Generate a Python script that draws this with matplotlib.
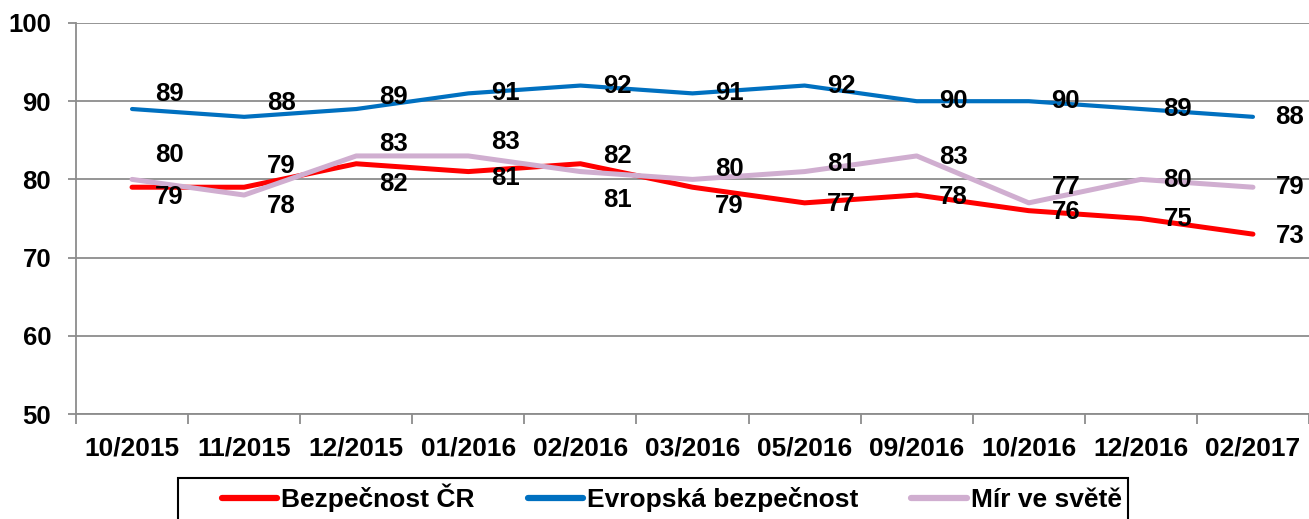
import matplotlib
matplotlib.use("Agg")
import matplotlib.pyplot as plt
from matplotlib.patches import Rectangle

# ---------------------------------------------------------------------------
# Data
# ---------------------------------------------------------------------------
periods = ["10/2015", "11/2015", "12/2015", "01/2016", "02/2016", "03/2016",
           "05/2016", "09/2016", "10/2016", "12/2016", "02/2017"]

bezpecnost_cr = [79, 79, 82, 81, 82, 79, 77, 78, 76, 75, 73]
evropska = [89, 88, 89, 91, 92, 91, 92, 90, 90, 89, 88]
mir = [80, 78, 83, 83, 81, 80, 81, 83, 77, 80, 79]

# label offsets (pixels, +down) relative to each point
cr_dy = [10, -21, 20, 6, -8, 19, 1, 2, 1, 0, 2]
ev_dy = [-15, -14, -12, 0, 0, 0, 0, 0, 0, 0, 0]
mir_dy = [-24, 11, -12, -14, 28, -10, -8, 1, -16, 1, 0]
LABEL_DX = 37

W, H = 1309, 519
plt.rcParams.update({
    "font.family": ["Liberation Sans", "DejaVu Sans"],
    "font.weight": "bold",
})

fig = plt.figure(figsize=(W / 100, H / 100), dpi=100)
ax = fig.add_axes([76 / W, 1 - 414 / H, (1309 - 76) / W, (414 - 23) / H])

x = list(range(len(periods)))
series = [
    (bezpecnost_cr, "Bezpečnost ČR", "#FF0000", 3.6, cr_dy),
    (evropska, "Evropská bezpečnost", "#0070C0", 3.0, ev_dy),
    (mir, "Mír ve světě", "#D0AED0", 3.6, mir_dy),
]

for vals, name, color, lw, dys in series:
    ax.plot(x, vals, color=color, lw=lw, label=name, solid_capstyle="round",
            solid_joinstyle="round", zorder=3)
    for xi, v, dy in zip(x, vals, dys):
        ax.annotate(str(v), (xi, v), xytext=(LABEL_DX, -dy),
                    textcoords="offset pixels", ha="center", va="center",
                    fontsize=18.5, fontweight="bold", color="black", zorder=5)

ax.set_xlim(-0.5, len(periods) - 0.5)
ax.set_ylim(50, 100)
ax.set_yticks(range(50, 101, 10))
ax.yaxis.grid(True, color="#8C8C8C", lw=1.3)
ax.set_axisbelow(True)

# category boundaries as major ticks, labels on minor ticks
ax.set_xticks([i - 0.5 for i in range(len(periods) + 1)])
ax.set_xticklabels([])
ax.set_xticks(x, minor=True)
ax.set_xticklabels(periods, minor=True)
ax.tick_params(axis="x", which="major", length=7, width=1.3, color="#8C8C8C",
               direction="out")
ax.tick_params(axis="x", which="minor", length=0, pad=16, labelsize=19)
ax.tick_params(axis="y", length=6, width=1.3, color="#8C8C8C", pad=12,
               labelsize=18.5)

for side in ("top", "right"):
    ax.spines[side].set_visible(False)
for side in ("left", "bottom"):
    ax.spines[side].set_color("#8C8C8C")
    ax.spines[side].set_linewidth(1.3)

# legend with Excel-style frame
leg = fig.legend(loc="center left", bbox_to_anchor=(222 / W, 1 - 498 / H),
                 ncol=3, frameon=False, fontsize=19, handlelength=2.1,
                 handletextpad=0.15, columnspacing=2.0, borderaxespad=0,
                 borderpad=0)
for line in leg.get_lines():
    line.set_linewidth(4.5)
fig.patches.append(Rectangle((178 / W, 1 - 530 / H), (1128 - 178) / W,
                             (530 - 478) / H, transform=fig.transFigure,
                             fill=False, edgecolor="black", lw=1.5))

fig.savefig("out.png", dpi=100)
